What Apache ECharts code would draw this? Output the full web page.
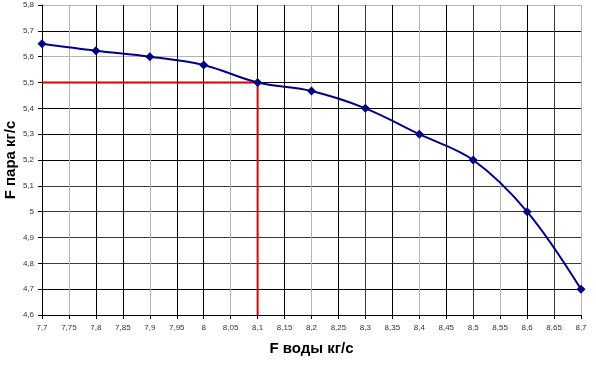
<!DOCTYPE html>
<html>
<head>
<meta charset="utf-8">
<script src="https://cdn.jsdelivr.net/npm/echarts@6/dist/echarts.min.js"></script>
<style>html,body{margin:0;padding:0;background:#fff}#c{width:596px;height:368px}</style>
</head>
<body>
<div id="c"></div>
<script>
var waterFlow = [7.7, 7.8, 7.9, 8.0, 8.1, 8.2, 8.3, 8.4, 8.5, 8.6, 8.7];
var steamFlow = [5.65, 5.623, 5.6, 5.568, 5.5, 5.467, 5.4, 5.3, 5.2, 5.0, 4.7];
var guideX = [7.7, 8.1, 8.1];
var guideY = [5.5, 5.5, 4.6];
var xName = 'F воды кг/с';
var yName = 'F пара кг/с';

var G = '#b4b4b4', B = '#000000', D = '#3a3a3a';
var vColors = [B,G,B,B,G,B,B,G,B,B,G,B,D,B,G,B,D,G,B,D,G];
var hColors = [B,B,D,D,D,D,B,B,B,B,G,B,G];

function fmt(v){ return String(+v.toFixed(2)).replace('.', ','); }

var chart = echarts.init(document.getElementById('c'), null, {renderer:'canvas'});
chart.setOption({
  animation:false,
  grid:{left:42, right:15, top:5, bottom:53, containLabel:false, outerBoundsMode:'none'},
  xAxis:{
    type:'value', min:7.7, max:8.7, interval:0.05,
    name:xName, nameLocation:'middle', nameGap:26, nameMoveOverlap:false,
    nameTextStyle:{fontFamily:'Liberation Sans, Arial, sans-serif', fontSize:15, fontWeight:'bold', color:'#000'},
    axisLine:{show:true, lineStyle:{color:'#000', width:1}},
    axisTick:{show:true, length:4, lineStyle:{color:'#000'}},
    axisLabel:{formatter:fmt, fontSize:8, color:'#333', margin:9, fontFamily:'Liberation Sans, Arial, sans-serif'},
    splitLine:{show:true, lineStyle:{color:vColors, width:1}}
  },
  yAxis:{
    type:'value', min:4.6, max:5.8, interval:0.1,
    name:yName, nameLocation:'middle', nameGap:24, nameRotate:90, nameMoveOverlap:false,
    nameTextStyle:{fontFamily:'Liberation Sans, Arial, sans-serif', fontSize:15, fontWeight:'bold', color:'#000'},
    axisLine:{show:true, lineStyle:{color:'#000', width:1}},
    axisTick:{show:true, length:4, lineStyle:{color:'#000'}},
    axisLabel:{formatter:fmt, fontSize:8, color:'#333', margin:8, fontFamily:'Liberation Sans, Arial, sans-serif'},
    splitLine:{show:true, lineStyle:{color:hColors, width:1}}
  },
  series:[
    {
      type:'line', data:guideX.map(function(x,i){return [x, guideY[i]];}),
      showSymbol:false, symbol:'none', lineStyle:{color:'#e00000', width:2}, z:2, silent:true
    },
    {
      type:'line', data:waterFlow.map(function(x,i){return [x, steamFlow[i]];}),
      smooth:0.35, symbol:'diamond', symbolSize:9,
      itemStyle:{color:'#000080'}, lineStyle:{color:'#000080', width:2}, z:3
    }
  ]
});
</script>
</body>
</html>
